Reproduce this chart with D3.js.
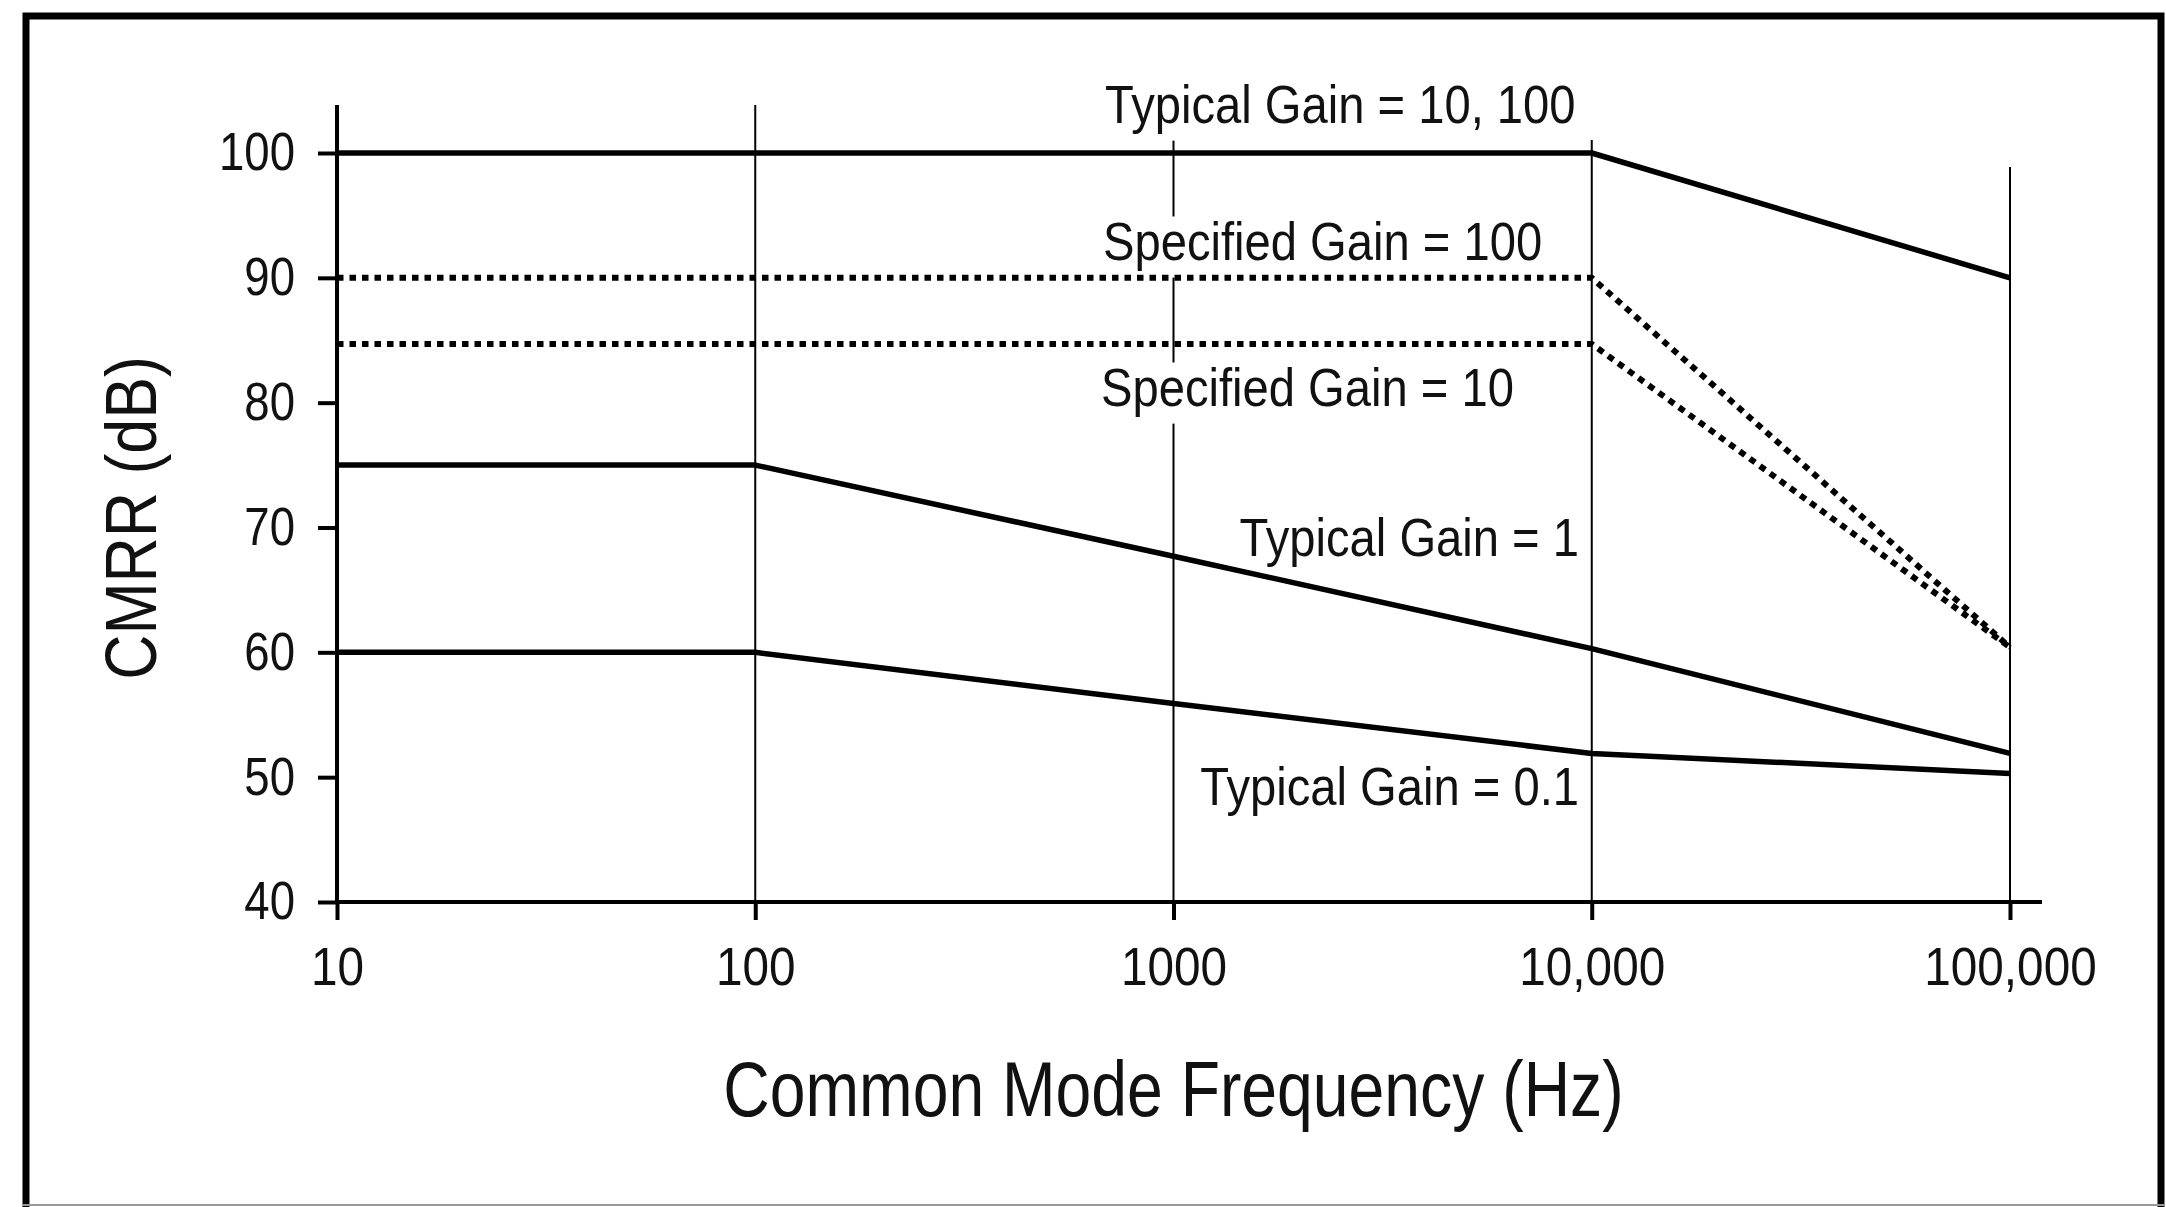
<!DOCTYPE html>
<html>
<head>
<meta charset="utf-8">
<script src="https://cdn.jsdelivr.net/npm/d3@7"></script>
<style>
  html, body { margin: 0; padding: 0; background: #fff; }
  svg { display: block; }
  text { font-family: "Liberation Sans", Arial, sans-serif; fill: #111; }
</style>
</head>
<body>
<svg id="drawing_region"></svg>
<script>
// data
var freqs = [10, 100, 1000, 10000, 100000];
var freqLabels = ['10', '100', '1000', '10,000', '100,000'];
var dbTicks = [40, 50, 60, 70, 80, 90, 100];

var typGain10_100 = [100, 100, 100, 100, 90];
var specGain100 = [90, 90, 90, 90, 60.4];
var specGain10 = [84.7, 84.7, 84.7, 84.7, 60.4];
var typGain1 = [75, 75, 67.7, 60.3, 51.9];
var typGain01 = [60, 60, 55.9, 51.9, 50.3];

var width = 2166;
var height = 1207;

var svg = d3.select('#drawing_region')
    .attr('width', width)
    .attr('height', height);

svg.append('rect').attr('width', width).attr('height', height).attr('fill', '#fff');

// the original uses a condensed face: squeeze Liberation Sans horizontally
function squeeze(sel, sx, extra) {
    sel.each(function() {
        var t = d3.select(this);
        var x = +t.attr('x') || 0;
        t.attr('x', x / sx).attr('transform', (extra || '') + ` scale(${sx},1)`);
    });
}

// outer frame (bottom edge is cut off in the scan)
svg.append('path')
    .attr('d', 'M26,1207 L26,16 L2161,16 L2161,1207')
    .attr('fill', 'none').attr('stroke', '#000').attr('stroke-width', 7);
svg.append('line')
    .attr('x1', 22).attr('x2', 2165).attr('y1', 1205).attr('y2', 1205)
    .attr('stroke', '#999').attr('stroke-width', 2);

// scales
var xscale = d3.scaleLog()
    .domain([10, 100000])
    .range([337, 2010]);

var yscale = d3.scaleLinear()
    .domain([40, 100])
    .range([902, 153]);

// vertical grid lines (tops differ like in the original)
var gridTop = [105, 105, 140, 167];
svg.append('g').selectAll('line')
    .data(freqs.slice(1)).enter()
    .append('line')
    .attr('x1', d => xscale(d)).attr('x2', d => xscale(d))
    .attr('y1', (d, i) => gridTop[i]).attr('y2', yscale(40))
    .attr('stroke', '#000').attr('stroke-width', 2);

// curve labels, with white boxes that cut the grid
var labels = [
    {text: 'Typical Gain = 10, 100', x: 1105, y: 123, anchor: 'start'},
    {text: 'Specified Gain = 100', x: 1103, y: 260, anchor: 'start'},
    {text: 'Specified Gain = 10', x: 1101, y: 406, anchor: 'start'},
    {text: 'Typical Gain = 1', x: 1579, y: 556, anchor: 'end'},
    {text: 'Typical Gain = 0.1', x: 1579, y: 805, anchor: 'end'}
];
var lsx = 0.89;
var lg = svg.append('g');
labels.forEach(function(l) {
    var bg = lg.append('rect').attr('fill', '#fff');
    var t = lg.append('text')
        .attr('x', l.x).attr('y', l.y)
        .attr('text-anchor', l.anchor)
        .attr('font-size', 53)
        .text(l.text);
    squeeze(t, lsx);
    var b = t.node().getBBox();
    bg.attr('x', b.x * lsx - 4).attr('y', b.y + 4)
      .attr('width', b.width * lsx + 8).attr('height', b.height + 2);
});

// axes
var xaxis = d3.axisBottom(xscale)
    .tickValues(freqs)
    .tickFormat((d, i) => freqLabels[i])
    .tickSize(18)
    .tickSizeOuter(0)
    .tickPadding(27);

var yaxis = d3.axisLeft(yscale)
    .tickValues(dbTicks)
    .tickSize(19)
    .tickSizeOuter(0)
    .tickPadding(23);

var xaxis_group = svg.append('g')
    .attr('transform', `translate(0, ${yscale(40)})`)
    .call(xaxis);

var yaxis_group = svg.append('g')
    .attr('transform', `translate(${xscale(10)}, 0)`)
    .call(yaxis);

[xaxis_group, yaxis_group].forEach(function(g) {
    g.select('.domain').remove();
    g.selectAll('.tick line').attr('stroke', '#000').attr('stroke-width', 4);
    g.selectAll('.tick text')
        .attr('fill', '#111')
        .attr('font-size', 53)
        .style('font-family', '"Liberation Sans", Arial, sans-serif');
});
squeeze(xaxis_group.selectAll('.tick text'), 0.9);
squeeze(yaxis_group.selectAll('.tick text'), 0.86);

// axis lines, a bit longer than the data range
svg.append('line')
    .attr('x1', xscale(10) - 2).attr('x2', 2042)
    .attr('y1', yscale(40)).attr('y2', yscale(40))
    .attr('stroke', '#000').attr('stroke-width', 4);
svg.append('line')
    .attr('x1', xscale(10)).attr('x2', xscale(10))
    .attr('y1', 105).attr('y2', yscale(40) + 2)
    .attr('stroke', '#000').attr('stroke-width', 4);

// axis titles
var ytitle = svg.append('text')
    .attr('text-anchor', 'middle')
    .attr('font-size', 72)
    .text('CMRR (dB)');
squeeze(ytitle, 0.87, 'translate(156, 518) rotate(-90)');

var xtitle = svg.append('text')
    .attr('x', xscale(1000)).attr('y', 1116)
    .attr('text-anchor', 'middle')
    .attr('font-size', 77)
    .text('Common Mode Frequency (Hz)');
squeeze(xtitle, 0.835);

// curves
var line = d3.line()
    .x((d, i) => xscale(freqs[i]))
    .y(d => yscale(d));

var series = [
    {values: typGain10_100, dash: null},
    {values: specGain100, dash: '6.5,6'},
    {values: specGain10, dash: '6.5,6'},
    {values: typGain1, dash: null},
    {values: typGain01, dash: null}
];

svg.append('g').selectAll('path')
    .data(series).enter()
    .append('path')
    .attr('d', d => line(d.values))
    .attr('fill', 'none')
    .attr('stroke', '#000')
    .attr('stroke-width', d => d.dash ? 6 : 5.5)
    .attr('stroke-dasharray', d => d.dash)
    .attr('stroke-linejoin', 'round');
</script>
</body>
</html>
